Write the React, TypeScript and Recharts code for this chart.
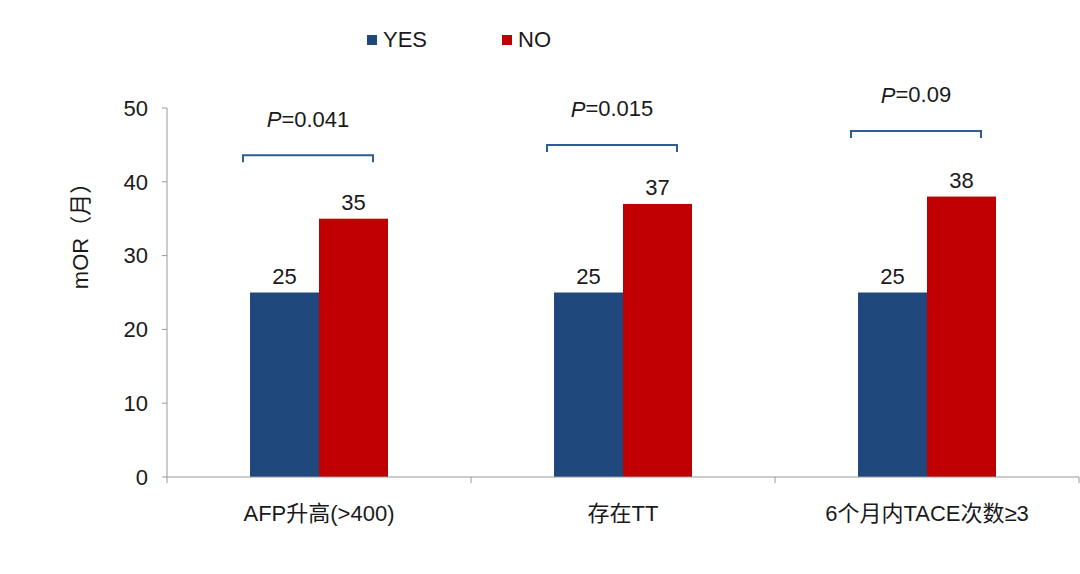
import { BarChart, Bar, XAxis, YAxis, Legend, LabelList } from 'recharts';

const categories = ['AFP升高(>400)', '存在TT', '6个月内TACE次数≥3'];
const yesValues = [25, 25, 25];
const noValues = [35, 37, 38];
const bracketLevels = [43.6, 45.0, 46.9];
const pValues = ['0.041', '0.015', '0.09'];
const yTicks = [0, 10, 20, 30, 40, 50];

const data = categories.map((name, i) => ({
  name,
  yes: yesValues[i],
  no: noValues[i],
  bracket: bracketLevels[i],
  p: pValues[i],
}));

const FONT = '"Liberation Sans", Arial, "Noto Sans CJK SC", sans-serif';
const FS = 22;
const BLUE = '#1f497d';
const RED = '#c00000';
const AXIS = '#999999';
const W = 1080;
const H = 574;
const PLOT_LEFT = 167;
const PLOT_RIGHT = 1;
const BAND = (W - PLOT_LEFT - PLOT_RIGHT) / categories.length;

const XTick = (props: any) => {
  const { x, y, payload, index } = props;
  const left = x - BAND / 2;
  return (
    <g>
      <line x1={left} y1={y} x2={left} y2={y + 6} stroke={AXIS} />
      {index === categories.length - 1 && (
        <line x1={x + BAND / 2} y1={y} x2={x + BAND / 2} y2={y + 6} stroke={AXIS} />
      )}
      <text x={x} y={y + 44} textAnchor="middle" fontSize={FS} fill="#1a1a1a" fontFamily={FONT}>
        {payload.value}
      </text>
    </g>
  );
};

// red bar plus the bracket / p-value annotation above the pair
const NoBarWithBracket = (props: any) => {
  const { x, y, width, height, fill, payload } = props;
  const base = y + height;
  const pxPerUnit = height / payload.no;
  const by = base - payload.bracket * pxPerUnit;
  const cx = x - 11;
  const half = 65;
  return (
    <g>
      <rect x={x} y={y} width={width} height={height} fill={fill} />
      <path
        d={`M${cx - half},${by + 7} L${cx - half},${by} L${cx + half},${by} L${cx + half},${by + 7}`}
        fill="none"
        stroke="#2f5d93"
        strokeWidth={2}
      />
      <text x={cx} y={by - 36} textAnchor="middle" dominantBaseline="central" fontSize={FS} fill="#1a1a1a" fontFamily={FONT}>
        <tspan fontStyle="italic">P</tspan>={payload.p}
      </text>
    </g>
  );
};

const LegendContent = () => (
  <div style={{ display: 'flex', alignItems: 'center', fontFamily: FONT, fontSize: FS, color: '#1a1a1a' }}>
    <span style={{ display: 'inline-block', width: 10, height: 10, background: BLUE, marginRight: 6 }} />
    <span style={{ marginRight: 75 }}>YES</span>
    <span style={{ display: 'inline-block', width: 10, height: 10, background: RED, marginRight: 6 }} />
    <span>NO</span>
  </div>
);

const YLabel = (props: any) => {
  const { viewBox } = props;
  const cy = viewBox.y + viewBox.height / 2 - 62;
  return (
    <text
      x={80}
      y={cy}
      transform={`rotate(-90, 80, ${cy})`}
      textAnchor="middle"
      dominantBaseline="central"
      fontSize={FS}
      fill="#1a1a1a"
      fontFamily={FONT}
    >
      mOR（月）
    </text>
  );
};

export default function App() {
  return (
    <div style={{ position: 'absolute', left: 0, top: 0, width: W, height: H, background: '#fff' }}>
      <BarChart
        width={W}
        height={H}
        data={data}
        margin={{ top: 108, right: PLOT_RIGHT, bottom: 57, left: 67 }}
        barGap={0}
        barSize={69}
      >
        <XAxis
          dataKey="name"
          height={40}
          stroke={AXIS}
          tickLine={false}
          tickSize={0}
          tickMargin={0}
          tick={<XTick />}
          interval={0}
        />
        <YAxis
          width={100}
          domain={[0, 50]}
          ticks={yTicks}
          stroke={AXIS}
          tickSize={5}
          tickMargin={14}
          tick={{ fontSize: FS, fill: '#1a1a1a', fontFamily: FONT }}
          label={<YLabel />}
        />
        <Legend
          layout="horizontal"
          verticalAlign="middle"
          align="center"
          wrapperStyle={{ top: 27, left: 367, width: 400 }}
          content={<LegendContent />}
        />
        <Bar dataKey="yes" name="YES" fill={BLUE} isAnimationActive={false}>
          <LabelList dataKey="yes" position="top" offset={9} fontSize={FS} fill="#1a1a1a" fontFamily={FONT} />
        </Bar>
        <Bar dataKey="no" name="NO" fill={RED} isAnimationActive={false} shape={<NoBarWithBracket />}>
          <LabelList dataKey="no" position="top" offset={9} fontSize={FS} fill="#1a1a1a" fontFamily={FONT} />
        </Bar>
      </BarChart>
    </div>
  );
}
